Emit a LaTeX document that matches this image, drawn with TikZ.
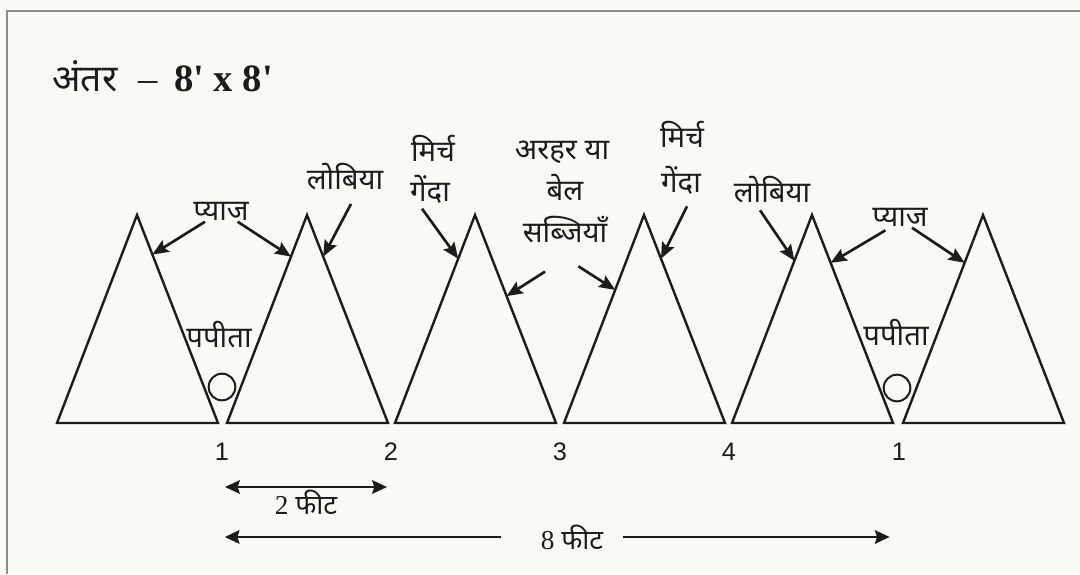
\documentclass[tikz,border=0pt]{standalone}
\usepackage{fontspec}
\setmainfont{Liberation Serif}
\newfontfamily\hindi[Script=Devanagari]{Noto Sans}
\newfontfamily\numfont{Liberation Sans}
\usetikzlibrary{arrows.meta,calc}
\definecolor{paper}{HTML}{FAFAF5}
\definecolor{ink}{HTML}{1C1C1C}
\definecolor{framegray}{HTML}{8C8C88}
\newcommand{\ftmark}{\XeTeXglyph\XeTeXglyphindex "quotesingle"\relax}

\begin{document}
\begin{tikzpicture}[x=0.75pt,y=-0.75pt,
  >={Stealth[length=12pt,width=10pt,inset=2pt]},
  bed/.style={draw=ink,line width=1.8pt,line join=miter},
  lbl/.style={font=\hindi\fontsize{22}{24}\selectfont,inner sep=1pt,text=ink},
  ptr/.style={->,line width=2pt,ink},
  num/.style={font=\numfont\fontsize{19}{21}\selectfont,inner sep=1pt,text=ink},
  dimtxt/.style={font=\fontsize{20.5}{22}\selectfont,inner sep=1pt,text=ink},
  dimline/.style={line width=2.2pt,ink,>={Stealth[length=11pt,width=10pt,inset=1.5pt]}}]
\useasboundingbox (0,0) rectangle (1080,574);
\fill[paper] (0,0) rectangle (1080,574);
\draw[framegray,line width=1.6pt] (7,574) -- (7,11) -- (1080,11);

% title
\node[anchor=west,inner sep=0,text=ink] (title) at (52,76)
  {{\hindi\fontsize{28}{30}\selectfont अंतर}\hspace{16pt}{\fontsize{29}{30}\selectfont –\hspace{12pt}\bfseries 8\ftmark{} x 8\ftmark}};

% beds
\foreach \i/\x in {1/57,2/227,3/395,4/564,5/732,6/903}{
  \coordinate (l\i) at (\x,423);
  \coordinate (a\i) at (\x+80,215);
  \coordinate (r\i) at (\x+161,423);
  \draw[bed] (l\i) -- (a\i) -- (r\i) -- cycle;
}

% papaya
\node[circle,draw=ink,line width=1.5pt,minimum size=20pt,inner sep=0] (pap1) at (222,387) {};
\node[circle,draw=ink,line width=1.5pt,minimum size=20pt,inner sep=0] (pap2) at (897,388) {};
\node[lbl] (papita1) at (219,335) {पपीता};
\node[lbl] (papita2) at (896,333) {पपीता};

% crop labels
\node[lbl] (pyaz1) at (221,211) {प्याज};
\node[lbl] (lobia1) at (345,177) {लोबिया};
\node[lbl] (mirch1) at (433,148) {मिर्च};
\node[lbl] (genda1) at (430,189) {गेंदा};
\node[lbl] (arhar) at (562,152) {अरहर या};
\node[lbl] (bel) at (565,188) {बेल};
\node[lbl] (sabji) at (565,230) {सब्जियाँ};
\node[lbl] (mirch2) at (682,134) {मिर्च};
\node[lbl] (genda2) at (681,180) {गेंदा};
\node[lbl] (lobia2) at (772,190) {लोबिया};
\node[lbl] (pyaz2) at (900,217) {प्याज};

\draw[ptr] ([xshift=-12pt]pyaz1.south) -- ($(a1)!.19!(r1)$);
\draw[ptr] ([xshift=12.5pt]pyaz1.south) -- ($(a2)!.2!(l2)$);
\draw[ptr] ([xshift=4.5pt,yshift=-9pt]lobia1.south) -- ($(a2)!.2!(r2)$);
\draw[ptr] ([xshift=-6pt,yshift=-3pt]genda1.south) -- ($(a3)!.21!(l3)$);
\draw[ptr] ([xshift=-15pt,yshift=-20pt]sabji.south) -- ($(a3)!.39!(r3)$);
\draw[ptr] ([xshift=10pt,yshift=-16pt]sabji.south) -- ($(a4)!.36!(l4)$);
\draw[ptr] ([xshift=4.5pt,yshift=-8pt]genda2.south) -- ($(a4)!.21!(r4)$);
\draw[ptr] ([xshift=-9pt,yshift=-4pt]lobia2.south) -- ($(a5)!.22!(l5)$);
\draw[ptr] ([xshift=-11pt,yshift=-2pt]pyaz2.south) -- ($(a5)!.23!(r5)$);
\draw[ptr] ([xshift=9pt]pyaz2.south) -- ($(a6)!.23!(l6)$);

% bed lines
\node[num] (n1) at (222,452) {1};
\node[num] (n2) at (391,452) {2};
\node[num] (n3) at (560,452) {3};
\node[num] (n4) at (729,452) {4};
\node[num] (n5) at (899,452) {1};

% distances
\coordinate (d2a) at ($(n1)+(3,35)$);
\coordinate (d2b) at ($(n2)+(-4,35)$);
\draw[dimline,<->] (d2a) -- node[below=0pt,dimtxt] (ft2) {2 {\hindi फीट}} (d2b);
\node[dimtxt] (ft8) at (572,537) {8 {\hindi फीट}};
\draw[dimline,->,shorten <=29pt] (ft8.west) -- ([xshift=2pt]n1 |- ft8.west);
\draw[dimline,->,shorten <=14pt] (ft8.east) -- ([xshift=-7pt]n5 |- ft8.east);
\end{tikzpicture}
\end{document}
